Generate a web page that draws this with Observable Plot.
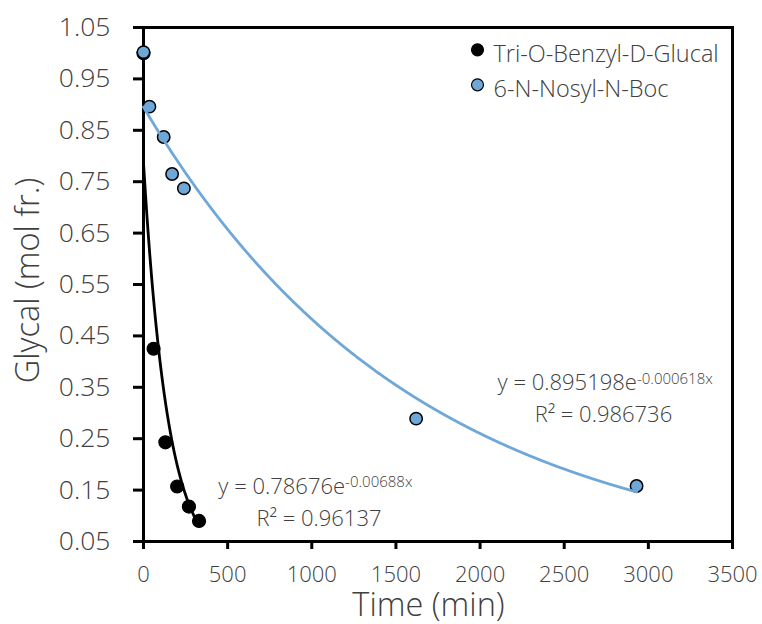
<!DOCTYPE html>
<html>
<head>
<meta charset="utf-8">
<script src="https://cdn.jsdelivr.net/npm/d3@7"></script>
<script src="https://cdn.jsdelivr.net/npm/@observablehq/plot@0.6"></script>
<style>
  html, body { margin: 0; padding: 0; background: #fff; }
  #chart svg { display: block; }
</style>
</head>
<body>
<div id="chart"></div>
<script>
// Glycal consumption over time (mole fraction remaining)
const benzylTime = [0, 60, 130, 200, 270, 330];
const benzylFrac = [1.0, 0.425, 0.243, 0.157, 0.118, 0.090];
const nosylTime = [0, 35, 120, 170, 240, 1620, 2930];
const nosylFrac = [1.002, 0.896, 0.837, 0.765, 0.737, 0.289, 0.158];

const seriesNames = ["Tri-O-Benzyl-D-Glucal", "6-N-Nosyl-N-Boc"];

// Exponential fits y = A·e^(-k·x) and their R²
const fitA = [0.78676, 0.895198];
const fitK = [0.00688, 0.000618];
const fitR2 = ["0.96137", "0.986736"];

const xTicks = [0, 500, 1000, 1500, 2000, 2500, 3000, 3500];
const yTicks = [0.05, 0.15, 0.25, 0.35, 0.45, 0.55, 0.65, 0.75, 0.85, 0.95, 1.05];

const colors = ["#000000", "#6fa7d8"];
const textColor = "#404040";

const benzyl = benzylTime.map((t, i) => ({t, v: benzylFrac[i]}));
const nosyl = nosylTime.map((t, i) => ({t, v: nosylFrac[i]}));

// Fitted curve sampled over each series' time span
const fitCurve = (i, tMax) =>
  d3.range(0, tMax + 1, 2).map(t => ({t, v: fitA[i] * Math.exp(-fitK[i] * t)}));
const benzylFit = fitCurve(0, d3.max(benzylTime));
const nosylFit = fitCurve(1, d3.max(nosylTime));

const eqMain = i => `y = ${fitA[i]}e`;
const eqExp = i => `-${fitK[i]}x`;
const eqR2 = i => `R² = ${fitR2[i]}`;

const eqStyle = {fill: textColor, lineAnchor: "bottom"};

const chart = Plot.plot({
  width: 762,
  height: 624,
  marginLeft: 143,
  marginRight: 30,
  marginTop: 27,
  marginBottom: 83,
  style: {
    fontFamily: "'Open Sans', sans-serif",
    fontWeight: 300,
    background: "#fff",
    color: textColor
  },
  x: {domain: [0, 3500]},
  y: {domain: [0.05, 1.05]},
  marks: [
    Plot.axisX({ticks: xTicks, tickSize: 8, tickPadding: 17, fontSize: 22, stroke: "#000", strokeWidth: 3, fill: textColor, label: null,
      tickFormat: d => String(d)}),
    Plot.axisY({ticks: yTicks, tickSize: 10, tickPadding: 23, fontSize: 26.5, stroke: "#000", strokeWidth: 3, fill: textColor, label: null,
      tickFormat: d => d.toFixed(2)}),
    Plot.frame({stroke: "#000", strokeWidth: 3}),

    // data points
    Plot.dot(benzyl, {x: "t", y: "v", r: 6.5, fill: colors[0], stroke: "#000", strokeWidth: 1.2}),
    Plot.dot(nosyl, {x: "t", y: "v", r: 6.2, fill: colors[1], stroke: "#000", strokeWidth: 1.5}),

    // exponential trendlines
    Plot.line(benzylFit, {x: "t", y: "v", stroke: colors[0], strokeWidth: 2.8}),
    Plot.line(nosylFit, {x: "t", y: "v", stroke: colors[1], strokeWidth: 2.8}),

    // fit equations
    Plot.text([0], {x: 1198, y: 0.1428, text: () => eqMain(0), textAnchor: "end", fontSize: 22, ...eqStyle}),
    Plot.text([0], {x: 1198, y: 0.1428, text: () => eqExp(0), textAnchor: "start", dy: -6.6, fontSize: 15, ...eqStyle}),
    Plot.text([0], {x: 1043, y: 0.0811, text: () => eqR2(0), textAnchor: "middle", fontSize: 22, ...eqStyle}),
    Plot.text([1], {x: 2932, y: 0.3438, text: () => eqMain(1), textAnchor: "end", fontSize: 22, ...eqStyle}),
    Plot.text([1], {x: 2932, y: 0.3438, text: () => eqExp(1), textAnchor: "start", dy: -6.7, fontSize: 15, ...eqStyle}),
    Plot.text([1], {x: 2733, y: 0.282, text: () => eqR2(1), textAnchor: "middle", fontSize: 22, ...eqStyle}),

    // legend
    ...seriesNames.flatMap((name, i) => [
      Plot.dot([name], {frameAnchor: "top-left", dx: 334, dy: 22.3 + 35 * i, r: 6, fill: colors[i], stroke: "#000", strokeWidth: 1.2}),
      Plot.text([name], {frameAnchor: "top-left", dx: 350, dy: 34.7 + 35 * i, text: d => d, textAnchor: "start", lineAnchor: "bottom", fontSize: 23.5, fill: textColor})
    ]),

    // axis titles
    Plot.text(["Time (min)"], {frameAnchor: "bottom", dx: -9.5, dy: 74, text: d => d, textAnchor: "middle", lineAnchor: "bottom", fontSize: 32.5, fill: textColor}),
    Plot.text(["Glycal (mol fr.)"], {frameAnchor: "left", rotate: -90, dx: -105, dy: -4, text: d => d, textAnchor: "middle", lineAnchor: "bottom", fontSize: 32.5, fill: textColor})
  ]
});

document.getElementById("chart").appendChild(chart);
</script>
</body>
</html>
